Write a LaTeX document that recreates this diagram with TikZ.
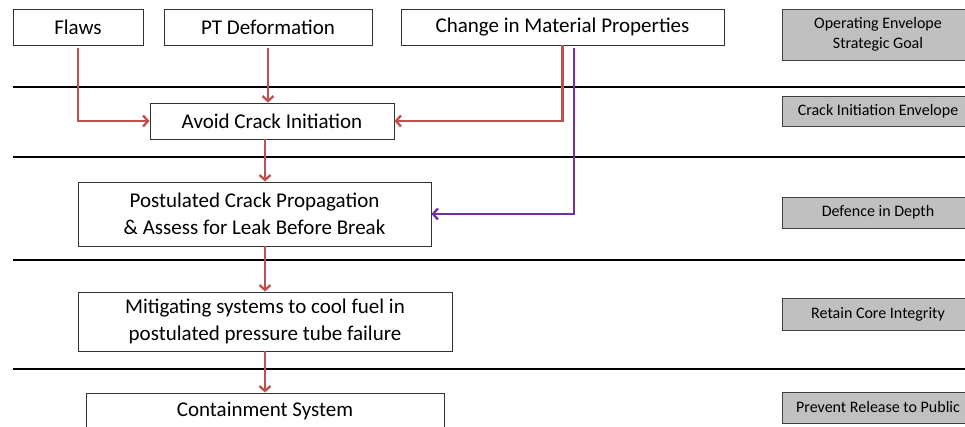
\documentclass[tikz,border=0pt]{standalone}
\usepackage{fontspec}
\setmainfont{Carlito}
\usetikzlibrary{arrows.meta}
\definecolor{rot}{HTML}{C0504D}
\definecolor{lila}{HTML}{7030A0}
\definecolor{grau}{HTML}{C0C0C0}

\begin{document}
\begin{tikzpicture}[x=1pt,y=-1pt,
    kasten/.style={draw=black!80, line width=0.8pt, fill=white, inner sep=0pt, align=center, font=\fontsize{21}{27}\selectfont},
    ebene/.style={draw=black!75, line width=0.8pt, fill=grau, inner sep=0pt, align=center, minimum width=192pt, font=\fontsize{16}{19.5}\selectfont},
    pfeil/.style={rot, line width=2.3pt, -{Straight Barb[length=5pt,width=11pt]}}]

\clip (0,0) rectangle (965,427);

\draw [line width=2.8pt] (13,87) -- (965,87);
\draw [line width=2.8pt] (13,157) -- (965,157);
\draw [line width=2.8pt] (13,260) -- (965,260);
\draw [line width=2.8pt] (13,369) -- (965,369);

\node [kasten, minimum width=130pt, minimum height=36pt] (F) at (78,27) {Flaws};
\node [kasten, minimum width=208pt, minimum height=36pt] (PT) at (268,27) {PT Deformation};
\node [kasten, minimum width=323pt, minimum height=36pt] (CM) at (562.5,27) {Change in Material Properties};
\node [kasten, minimum width=244pt, minimum height=36pt] (AC) at (272,121) {Avoid Crack Initiation};
\node [kasten, minimum width=353pt, minimum height=64pt] (PC) at (254.5,214) {Postulated Crack Propagation\\ \& Assess for Leak Before Break};
\node [kasten, minimum width=374pt, minimum height=59pt] (MS) at (265,321.5) {Mitigating systems to cool fuel in\\ postulated pressure tube failure};
\node [kasten, minimum width=358pt, minimum height=36pt] (CS) at (265,411) {Containment System};

\node [ebene, minimum height=51pt] (G1) at (878,34.5) {Operating Envelope\\ Strategic Goal};
\node [ebene, minimum height=30pt] (G2) at (878,111) {Crack Initiation Envelope};
\node [ebene, minimum height=31pt] (G3) at (878,212.5) {Defence in Depth};
\node [ebene, minimum height=32pt] (G4) at (878,314) {Retain Core Integrity};
\node [ebene, minimum height=31pt] (G5) at (878,407.5) {Prevent Release to Public};

\coordinate (P) at ([xshift=11.5pt,yshift=-3pt]CM.south);

\draw [pfeil, shorten <=3pt] (F.south) |- (AC.west);
\draw [pfeil, shorten <=3pt] (PT.south) -- (PT.south |- AC.north);
\draw [pfeil] (CM.south) |- (AC.east);
\draw [lila, line width=2.3pt, -{Straight Barb[length=5pt,width=11pt]}] (P) |- (PC.east);
\draw [pfeil] (AC.south -| MS.north) -- (PC.north -| MS.north);
\draw [pfeil] (PC.south -| MS.north) -- (MS.north);
\draw [pfeil] (MS.south) -- (CS.north);
\end{tikzpicture}
\end{document}
